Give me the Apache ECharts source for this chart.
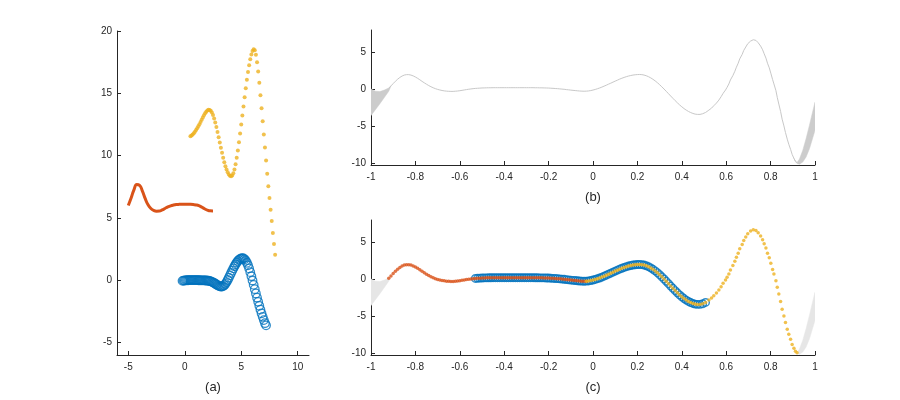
<!DOCTYPE html>
<html><head><meta charset="utf-8">
<script src="https://cdn.jsdelivr.net/npm/echarts@6.0.0/dist/echarts.min.js"></script>
<style>html,body{margin:0;padding:0;background:#fff}#c{width:900px;height:400px}</style>
</head><body><div id="c"></div>
<script>
// ---------- data ----------
// panel (a): each piece sampled on a uniform parameter grid
const aRedStart = -5.0, aRedStep = 0.25;
const aRedY = [6.0, 6.6, 7.25, 7.68, 7.62, 7.15, 6.55, 6.05, 5.76, 5.6, 5.54, 5.55, 5.64, 5.76, 5.88, 5.97,
  6.03, 6.07, 6.09, 6.1, 6.1, 6.1, 6.09, 6.07, 6.04, 5.98, 5.87, 5.74, 5.63, 5.57, 5.56];

const aBlueStart = -0.2, aBlueStep = 0.1;
const aBlueY = [-0.05, -0.03, -0.02, -0.01, 0, 0, 0.01, 0.01, 0.01, 0.01, 0.01, 0.01, 0.01, 0.01, 0, 0, -0.01, -0.01, -0.01, -0.01, -0.02, -0.02,
  -0.03, -0.04, -0.06, -0.09, -0.13, -0.17, -0.22, -0.28, -0.34, -0.4, -0.45, -0.49, -0.51, -0.51, -0.47, -0.4, -0.29, -0.15, 0.02, 0.2,
  0.39, 0.58, 0.77, 0.95, 1.12, 1.28, 1.42, 1.54, 1.64, 1.71, 1.75, 1.77, 1.75, 1.68, 1.56, 1.4, 1.2, 0.95, 0.65, 0.32,
  -0.02, -0.37, -0.72, -1.06, -1.4, -1.73, -2.05, -2.36, -2.66, -2.94, -3.2, -3.45, -3.62];

const aYellowStart = 0.5, aYellowStep = 0.1;
const aYellowY = [11.55, 11.62, 11.7, 11.8, 11.92, 12.05, 12.2, 12.36, 12.52, 12.7, 12.88, 13.06, 13.24, 13.4, 13.53, 13.63,
  13.68, 13.67, 13.6, 13.45, 13.25, 12.98, 12.66, 12.3, 11.9, 11.48, 11.06, 10.63, 10.22, 9.83, 9.47, 9.15, 8.88, 8.66, 8.49,
  8.38, 8.34, 8.4, 8.58, 8.88, 9.3, 9.82, 10.42, 11.08, 11.78, 12.5, 13.22, 13.95, 14.68, 15.4, 16.08, 16.7, 17.25, 17.74,
  18.12, 18.4, 18.53, 18.45, 18.1, 17.5, 16.75, 15.85, 14.85, 13.8, 12.75, 11.7, 10.65, 9.6, 8.55, 7.55, 6.6, 5.65, 4.75,
  3.8, 2.9, 2.05];

// panels (b),(c): the curve on [-1,1]; grid part (step 0.01) then individually read dots
const fGridStart = -0.92, fGridStep = 0.01;
const fGridY = [0.10, 0.42, 0.74, 1.05, 1.33, 1.57, 1.76, 1.89, 1.95, 1.95,
  1.89, 1.78, 1.63, 1.45, 1.25, 1.04, 0.84, 0.65, 0.47, 0.31,
  0.17, 0.05, -0.05, -0.13, -0.20, -0.25, -0.29, -0.31, -0.32, -0.32,
  -0.30, -0.27, -0.23, -0.18, -0.13, -0.08, -0.03, 0.01, 0.05, 0.08,
  0.10, 0.12, 0.14, 0.15, 0.16, 0.17, 0.17, 0.18, 0.18, 0.18,
  0.18, 0.18, 0.18, 0.18, 0.18, 0.18, 0.18, 0.18, 0.18, 0.18,
  0.18, 0.18, 0.18, 0.18, 0.18, 0.18, 0.17, 0.17, 0.16, 0.16,
  0.15, 0.14, 0.13, 0.11, 0.09, 0.07, 0.05, 0.02, -0.01, -0.04,
  -0.08, -0.11, -0.15, -0.18, -0.21, -0.24, -0.27, -0.29, -0.30, -0.29,
  -0.26, -0.21, -0.14, -0.06, 0.04, 0.14, 0.26, 0.39, 0.52, 0.66,
  0.79, 0.93, 1.07, 1.20, 1.34, 1.46, 1.57, 1.67, 1.76, 1.83,
  1.89, 1.93, 1.96, 1.97, 1.95, 1.89, 1.80, 1.67, 1.51, 1.32,
  1.10, 0.86, 0.59, 0.30, 0.00, -0.31, -0.63, -0.95, -1.26, -1.57,
  -1.87, -2.15, -2.41, -2.65, -2.86, -3.04, -3.19, -3.31, -3.40, -3.44];
const fDotsX = [0.482, 0.494, 0.507, 0.522, 0.534, 0.544, 0.556, 0.567, 0.577, 0.586, 0.597, 0.604, 0.612, 0.619, 0.630,
  0.639, 0.646, 0.654, 0.661, 0.672, 0.679, 0.688, 0.697, 0.710, 0.722, 0.734, 0.744, 0.755, 0.764, 0.771, 0.779, 0.786,
  0.794, 0.801, 0.809, 0.815, 0.824, 0.830, 0.837, 0.845, 0.852, 0.860, 0.867, 0.875, 0.882, 0.890, 0.897, 0.905, 0.912, 0.919];
const fDotsY = [-3.44, -3.35, -3.18, -2.86, -2.59, -2.27, -1.91, -1.5, -1.04, -0.59, -0.13, 0.23, 0.69, 1.23, 1.82,
  2.41, 2.96, 3.5, 4.09, 4.69, 5.23, 5.69, 6.14, 6.5, 6.68, 6.59, 6.28, 5.82, 5.32, 4.78, 4.19, 3.5,
  2.87, 2.14, 1.28, 0.69, -0.22, -1.13, -2.04, -3.04, -4.09, -5.0, -5.9, -6.8, -7.5, -8.18, -8.86, -9.4, -9.8, -10.0];

// pieces of the curve shown in (c)
const redRange = [-0.92, -0.03];
const blueRange = [-0.53, 0.51];
const yellowRange = [-0.03, 0.92];

// grey spread at both ends
const wedgeLX = [-1.0, -0.98, -0.96, -0.94, -0.92, -0.91];
const wedgeLUp = [0.0, -0.3, -0.35, -0.15, 0.15, 0.42];
const wedgeLLo = [-3.6, -2.8, -2.0, -1.15, -0.3, 0.42];
const wedgeRX = [0.905, 0.912, 0.919, 0.93, 0.945, 0.96, 0.975, 0.99, 1.0];
const wedgeRUp = [-9.4, -9.8, -9.95, -9.5, -8.3, -6.7, -4.9, -3.0, -1.8];
const wedgeRLo = [-9.4, -9.85, -10.1, -10.2, -9.9, -9.2, -8.1, -6.6, -5.6];

// axes
const aXTicks = [-5, 0, 5, 10], aYTicks = [-5, 0, 5, 10, 15, 20];
const bcXTicks = [-1, -0.8, -0.6, -0.4, -0.2, 0, 0.2, 0.4, 0.6, 0.8, 1];
const bcYTicks = [-10, -5, 0, 5];
const labels = ['(a)', '(b)', '(c)'];

// ---------- build ----------
const BLUE = '#0072BD', RED = '#D95319', YEL = '#EDB120', INK = '#262626';
const FONT = '"Liberation Sans", Arial, Helvetica, sans-serif';

function grid(start, step, ys) { return ys.map((y, i) => [+(start + i * step).toFixed(3), y]); }
const aRed = grid(aRedStart, aRedStep, aRedY);
const aBlue = grid(aBlueStart, aBlueStep, aBlueY);
const aYellow = grid(aYellowStart, aYellowStep, aYellowY);
const curve = grid(fGridStart, fGridStep, fGridY).concat(fDotsX.map((x, i) => [x, fDotsY[i]]));
const inRange = r => curve.filter(p => p[0] >= r[0] - 1e-9 && p[0] <= r[1] + 1e-9);

function xAx(gi, min, max, ticks, name) {
  return { type: 'value', gridIndex: gi, min, max, name, nameLocation: 'middle', nameGap: 26,
    nameTextStyle: { fontFamily: FONT, fontSize: 13, color: INK },
    axisLine: { show: true, onZero: false, lineStyle: { color: INK, width: 1 } },
    axisTick: { show: true, inside: true, length: 4, customValues: ticks, lineStyle: { color: INK } },
    axisLabel: { customValues: ticks, color: INK, fontSize: 10, fontFamily: FONT, margin: 7, formatter: v => String(v) },
    splitLine: { show: false } };
}
function yAx(gi, min, max, ticks) {
  return { type: 'value', gridIndex: gi, min, max,
    axisLine: { show: true, onZero: false, lineStyle: { color: INK, width: 1 } },
    axisTick: { show: true, inside: true, length: 4, customValues: ticks, lineStyle: { color: INK } },
    axisLabel: { customValues: ticks, color: INK, fontSize: 10, fontFamily: FONT, margin: 5, formatter: v => String(v) },
    splitLine: { show: false } };
}
function wedge(ai, xs, up, lo, color) {
  return { type: 'custom', xAxisIndex: ai, yAxisIndex: ai, silent: true, clip: true, data: [[xs[0], up[0]]],
    renderItem: (params, api) => {
      const pts = [];
      for (let i = 0; i < xs.length; i++) pts.push(api.coord([xs[i], up[i]]));
      for (let i = xs.length - 1; i >= 0; i--) pts.push(api.coord([xs[i], lo[i]]));
      return { type: 'polygon', shape: { points: pts }, style: { fill: color, stroke: color, lineWidth: 0.5 } };
    } };
}
function rings(ai, data, size, bw) {
  return { type: 'scatter', xAxisIndex: ai, yAxisIndex: ai, data, symbol: 'circle', symbolSize: size, silent: true,
    itemStyle: { color: 'rgba(0,0,0,0)', borderColor: BLUE, borderWidth: bw } };
}
function dots(ai, data, color, size) {
  return { type: 'scatter', xAxisIndex: ai, yAxisIndex: ai, data, symbol: 'circle', symbolSize: size, silent: true,
    itemStyle: { color } };
}

const option = {
  backgroundColor: '#fff',
  animation: false,
  grid: [
    { left: 117, top: 31, width: 192, height: 324 },
    { left: 371, top: 30, width: 444, height: 135 },
    { left: 371, top: 220, width: 444, height: 135 }
  ],
  xAxis: [xAx(0, -6, 11, aXTicks, labels[0]), xAx(1, -1, 1, bcXTicks, labels[1]), xAx(2, -1, 1, bcXTicks, labels[2])],
  yAxis: [yAx(0, -6, 20, aYTicks), yAx(1, -10.3, 8, bcYTicks), yAx(2, -10.3, 8, bcYTicks)],
  series: [
    // (a)
    rings(0, aBlue, 8.5, 1.3),
    { type: 'line', xAxisIndex: 0, yAxisIndex: 0, data: aRed, smooth: true, showSymbol: false, silent: true,
      lineStyle: { color: RED, width: 3 } },
    dots(0, aYellow, YEL, 4),
    // (b)
    wedge(1, wedgeLX, wedgeLUp, wedgeLLo, '#cccccc'),
    wedge(1, wedgeRX, wedgeRUp, wedgeRLo, '#cccccc'),
    { type: 'line', xAxisIndex: 1, yAxisIndex: 1, data: curve, showSymbol: false, silent: true,
      lineStyle: { color: '#c8c8c8', width: 1 } },
    // (c)
    wedge(2, wedgeLX, wedgeLUp, wedgeLLo, '#e6e6e6'),
    wedge(2, wedgeRX, wedgeRUp, wedgeRLo, '#e6e6e6'),
    rings(2, inRange(blueRange), 7.5, 1.4),
    dots(2, inRange(redRange), RED, 3.5),
    dots(2, inRange(yellowRange), YEL, 3.5)
  ]
};
const chart = echarts.init(document.getElementById('c'));
chart.setOption(option);
</script></body></html>
